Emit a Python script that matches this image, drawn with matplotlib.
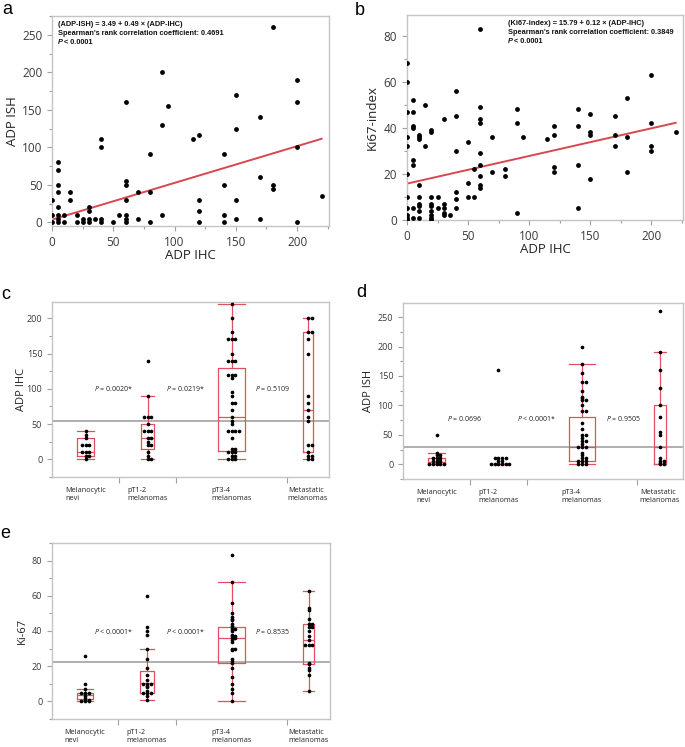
import numpy as np
import matplotlib.pyplot as plt
from matplotlib.ticker import MultipleLocator

plt.rcParams['font.family'] = ['Open Sans', 'DejaVu Sans']
plt.rcParams['mathtext.fontset'] = 'custom'
plt.rcParams['mathtext.rm'] = 'Open Sans'
plt.rcParams['mathtext.it'] = 'Open Sans:italic'
plt.rcParams['mathtext.bf'] = 'Open Sans:bold'

# ---- panel a: ADP IHC vs ADP ISH ----
a_ihc = [180, 90, 200, 150, 60, 95, 200, 170, 90, 150, 115, 120, 40, 40, 200, 80, 140,
         5, 5, 5, 5, 15, 15, 0, 5, 60, 60, 60, 70, 80, 170, 180, 180, 140, 220,
         120, 150, 120, 90, 140, 150, 170, 200, 120, 140, 80, 70, 55, 60, 60, 60, 50,
         40, 40, 35, 30, 30, 30, 30, 25, 25, 20, 20, 10, 10, 5, 5, 5, 0, 0]
a_ish = [260, 200, 190, 170, 160, 155, 160, 140, 130, 125, 111, 116, 111, 100, 100, 91, 91,
         80, 70, 50, 40, 40, 30, 30, 20, 55, 50, 30, 40, 40, 60, 50, 45, 50, 35,
         30, 30, 15, 10, 10, 5, 5, 0, 0, 0, 0, 5, 10, 10, 5, 0, 0,
         5, 0, 5, 5, 0, 20, 15, 5, 0, 10, 0, 10, 0, 10, 5, 0, 10, 0]
fit_a = (3.49, 0.49)

# ---- panel b: ADP IHC vs Ki67-index ----
b_ihc = [60, 0, 0, 200, 40, 5, 180, 15, 60, 90, 140, 0, 5, 150, 170, 40, 30, 60, 60, 90,
         120, 140, 200, 5, 5, 10, 10, 10, 20, 20, 15, 0, 0, 50, 70, 95, 115, 120, 150, 150,
         170, 170, 180, 200, 200, 220, 40, 60, 60, 120, 120, 140, 70, 80, 80, 60, 55, 180,
         150, 50, 60, 60, 10, 5, 5, 0, 40, 40, 50, 55, 40, 0, 10, 10, 10, 10, 10,
         20, 20, 20, 20, 20, 20, 25, 25, 30, 30, 30, 30, 35, 5, 5, 0, 0, 0, 90, 140, 20, 0]
b_ki67 = [83, 68, 60, 63, 56, 52, 53, 50, 49, 48, 48, 47, 47, 46, 45, 45, 44, 44, 42, 42,
          41, 41, 42, 41, 40, 37, 36, 35, 39, 38, 32, 36, 32, 34, 36, 36, 35, 37, 38, 37,
          37, 32, 36, 32, 30, 38, 30, 29, 24, 23, 21, 24, 21, 22, 19, 19, 22, 21,
          18, 16, 15, 14, 15, 26, 24, 20, 12, 9, 10, 10, 5, 10, 10, 7, 6, 4, 1,
          10, 7, 6, 4, 2, 1, 10, 5, 7, 5, 3, 2, 2, 5, 1, 5, 2, 1, 3, 5, 0, 0]
fit_b = (15.79, 0.12)

# ---- panels c-e: groups ----
groups = ['Melanocytic\nnevi', 'pT1-2\nmelanomas', 'pT3-4\nmelanomas', 'Metastatic\nmelanomas']

ihc_vals = [
    [40, 35, 30, 20, 20, 20, 10, 10, 10, 5, 5, 0],
    [140, 90, 60, 60, 60, 50, 40, 40, 40, 30, 30, 25, 20, 20, 10, 5, 0, 0],
    [220, 200, 180, 170, 170, 170, 150, 140, 140, 140, 120, 120, 120, 115, 95, 90, 80, 80,
     70, 60, 55, 50, 40, 40, 40, 40, 30, 15, 15, 10, 10, 10, 5, 5, 0, 0, 0],
    [200, 200, 180, 180, 170, 150, 90, 80, 70, 60, 55, 20, 20, 10, 5, 5, 0, 0],
]
ihc_q1 = [5, 15, 12.5, 10]
ihc_med = [10, 30, 60, 70]
ihc_q3 = [30, 50, 130, 180]
ihc_lo = [0, 0, 0, 0]
ihc_hi = [40, 90, 220, 200]
ihc_mean = 54
ihc_p = ['= 0.0020*', '= 0.0219*', '= 0.5109']

ish_vals = [
    [50, 20, 15, 15, 10, 10, 10, 5, 5, 5, 2, 0, 0, 0, 0, 0],
    [160, 10, 10, 10, 10, 5, 5, 0, 0, 0, 0, 0, 0],
    [200, 170, 155, 140, 140, 125, 115, 112, 110, 110, 100, 90, 90, 70, 60, 50, 50, 45, 40, 40,
     35, 30, 30, 30, 20, 15, 10, 10, 5, 5, 5, 0, 0, 0],
    [260, 190, 160, 130, 100, 80, 55, 50, 30, 10, 5, 5, 3, 0, 0],
]
ish_q1 = [0, 0, 5, 0]
ish_med = [4, 0, 30, 30]
ish_q3 = [10, 0, 80, 100]
ish_lo = [0, 0, 0, 0]
ish_hi = [20, 0, 170, 190]
ish_mean = 30
ish_p = ['= 0.0696', '< 0.0001*', '= 0.9505']

ki_vals = [
    [26, 10, 7, 5, 5, 5, 4, 3, 2, 1, 1, 0, 0, 0],
    [60, 42, 40, 38, 30, 24, 19, 15, 12, 10, 10, 10, 9, 8, 6, 5, 5, 5, 3, 1],
    [83, 68, 56, 50, 48, 47, 46, 44, 43, 42, 41, 41, 40, 38, 37, 37, 36, 36, 35, 34,
     30, 30, 29, 24, 23, 22, 19, 14, 10, 7, 5, 0],
    [63, 53, 52, 47, 44, 44, 42, 42, 40, 37, 35, 32, 32, 32, 22, 21, 19, 18, 15, 6],
]
ki_q1 = [1.5, 5, 22, 21]
ki_med = [3.5, 10.5, 36, 35]
ki_q3 = [5, 17.5, 42.5, 44]
ki_lo = [0, 1, 0, 6]
ki_hi = [7, 30, 68, 63]
ki_mean = 22.5
ki_p = ['< 0.0001*', '< 0.0001*', '= 0.8535']

W, H = 685, 747
fig = plt.figure(figsize=(W / 100, H / 100), dpi=100)

RED = '#e0505f'
GREY = '#c4c4c4'


def px_axes(l, t, r, b):
    return fig.add_axes([l / W, 1 - b / H, (r - l) / W, (b - t) / H])


def frame(ax, fs):
    for s in ax.spines.values():
        s.set_color(GREY)
        s.set_linewidth(1)
    ax.tick_params(which='both', color='#a0a0a0', labelcolor='#3a3a3a', labelsize=fs,
                   direction='out', width=0.8)
    ax.tick_params(which='major', length=3.5)
    ax.tick_params(which='minor', length=2)


def scatter_panel(ax, xs, ys, fit, ylim, ystep, ylab, ylab_x):
    ax.scatter(xs, ys, s=12, color='black', linewidths=0, zorder=3)
    xx = np.array([0, 220])
    ax.plot(xx, fit[0] + fit[1] * xx, color='#d8474f', lw=1.4, zorder=2)
    ax.set_xlim(0, 226)
    ax.set_ylim(*ylim)
    ax.xaxis.set_major_locator(MultipleLocator(50))
    ax.xaxis.set_minor_locator(MultipleLocator(25))
    ax.yaxis.set_major_locator(MultipleLocator(ystep))
    ax.yaxis.set_minor_locator(MultipleLocator(ystep / 2))
    frame(ax, 8.5)
    ax.set_xlabel('ADP IHC', fontsize=9.5, color='#222222', labelpad=0)
    ax.set_ylabel(ylab, fontsize=9.5, color='#222222')
    ax.yaxis.set_label_coords(ylab_x, 0.5)


def note(ax, x, lines):
    fs = 5.3
    kw = dict(transform=ax.transAxes, fontsize=fs, fontweight='bold',
              family='Liberation Sans', va='top', color='#111111')
    ax.text(x, 0.975, lines[0], **kw)
    ax.text(x, 0.932, lines[1], **kw)
    ax.text(x, 0.889, 'P', fontstyle='italic', **kw)
    ax.text(x + 0.021, 0.889, lines[2], **kw)


def spread(vals, center, step=3.6):
    xs = []
    seen = {}
    for v in vals:
        k = seen.get(v, 0)
        seen[v] = k + 1
        off = ((k + 1) // 2) * step * (1 if k % 2 else -1)
        xs.append(center + off)
    return xs


def box_panel(ax, bounds, vals, q1, med, q3, lo, hi, mean, ptexts, py, ylim, ystep, ylab, ylab_x):
    bounds = np.array(bounds, dtype=float)
    centers = (bounds[:-1] + bounds[1:]) / 2
    widths = np.diff(bounds) * 0.24
    ax.axhline(mean, color='#9a9a9a', lw=1.1, zorder=1)
    stats = [dict(q1=q1[i], med=med[i], q3=q3[i], whislo=lo[i], whishi=hi[i], fliers=[])
             for i in range(len(vals))]
    ax.bxp(stats, positions=centers, widths=widths, capwidths=widths, showfliers=False,
           boxprops=dict(color=RED, lw=0.9), whiskerprops=dict(color=RED, lw=0.9),
           capprops=dict(color=RED, lw=0.9), medianprops=dict(color=RED, lw=0.9),
           manage_ticks=False, zorder=2)
    for c, v in zip(centers, vals):
        ax.scatter(spread(v, c), v, s=7, color='black', linewidths=0, zorder=3)
    shifts = [-3, -4, 3]
    for i, t in enumerate(ptexts):
        ax.text((centers[i] + centers[i + 1]) / 2 + shifts[i], py, r'$\it{P}$ ' + t,
                fontsize=5.0, ha='center', va='center', color='#222222')
    ax.set_xlim(bounds[0], bounds[-1])
    ax.set_ylim(*ylim)
    ax.set_xticks(bounds[1:-1])
    ax.set_xticklabels([])
    ax.yaxis.set_major_locator(MultipleLocator(ystep))
    ax.yaxis.set_minor_locator(MultipleLocator(ystep / 2))
    frame(ax, 6.5)
    ax.tick_params(axis='x', length=4)
    for c, g in zip(centers, groups):
        ax.text(c, -0.055, g, transform=ax.get_xaxis_transform(), fontsize=5.2, ha='center',
                va='top', multialignment='left', color='#222222', linespacing=1.35)
    ax.set_ylabel(ylab, fontsize=8, color='#222222')
    ax.yaxis.set_label_coords(ylab_x, 0.5)


ax_a = px_axes(52, 16, 329, 226)
scatter_panel(ax_a, a_ihc, a_ish, fit_a, (-5, 275), 50, 'ADP ISH', -0.119)
note(ax_a, 0.022, ['(ADP-ISH) = 3.49 + 0.49 \u00d7 (ADP-IHC)',
                   "Spearman's rank correlation coefficient: 0.4691", '< 0.0001'])

ax_b = px_axes(407, 15, 683, 220)
scatter_panel(ax_b, b_ihc, b_ki67, fit_b, (0, 89), 20, 'Ki67-index', -0.103)
note(ax_b, 0.365, ['(Ki67-index) = 15.79 + 0.12 \u00d7 (ADP-IHC)',
                   "Spearman's rank correlation coefficient: 0.3849", '< 0.0001'])

ax_c = px_axes(52, 302, 329, 477)
box_panel(ax_c, [0, 67, 124, 235, 277], ihc_vals, ihc_q1, ihc_med, ihc_q3, ihc_lo, ihc_hi,
          ihc_mean, ihc_p, 100, (-25, 223), 50, 'ADP IHC', -0.092)

ax_d = px_axes(403, 303, 683, 479)
box_panel(ax_d, [0, 67, 124, 234, 280], ish_vals, ish_q1, ish_med, ish_q3, ish_lo, ish_hi,
          ish_mean, ish_p, 78, (-25, 274), 50, 'ADP ISH', -0.102)

ax_e = px_axes(52, 543, 330, 719)
box_panel(ax_e, [0, 66, 124, 235, 278], ki_vals, ki_q1, ki_med, ki_q3, ki_lo, ki_hi,
          ki_mean, ki_p, 40, (-10, 90), 20, 'Ki-67', -0.088)

for lab, x, y in [('a', 2, 1), ('b', 355, 2), ('c', 1, 286), ('d', 356, 284), ('e', 0, 525)]:
    fig.text(x / W, 1 - y / H, lab, fontsize=13, family='Liberation Sans', va='top', ha='left')

fig.savefig('out.png', dpi=100)
